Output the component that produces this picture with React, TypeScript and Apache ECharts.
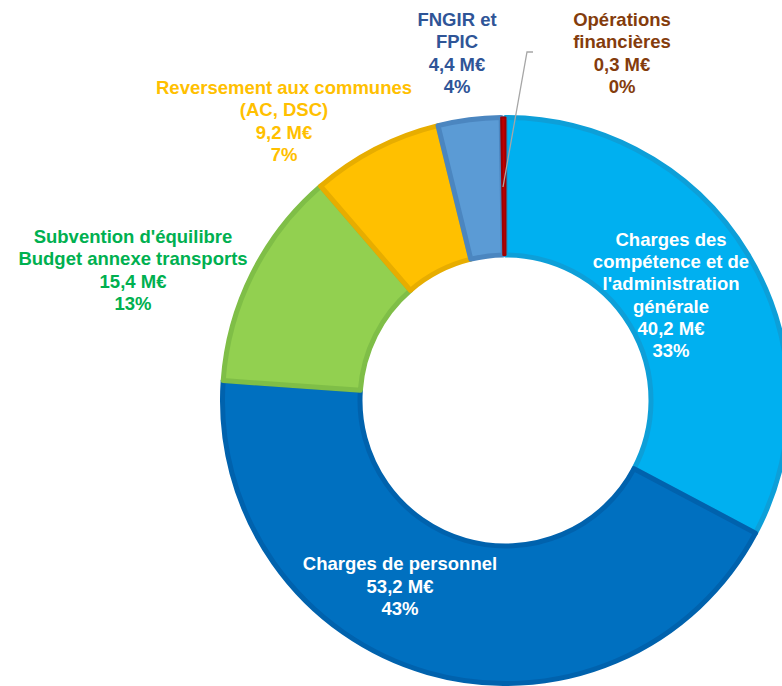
import React, { useEffect, useRef } from "react";
import * as echarts from "echarts";

const categories = [
  "Charges des\ncompétence et de\nl'administration\ngénérale",
  "Charges de personnel",
  "Subvention d'équilibre\nBudget annexe transports",
  "Reversement aux communes\n(AC, DSC)",
  "FNGIR et\nFPIC",
  "Opérations\nfinancières",
];
const values = [40.2, 53.2, 15.4, 9.2, 4.4, 0.3];

const fillColors = ["#00B0F0", "#0070C0", "#92D050", "#FFC000", "#5B9BD5", "#C00000"];
const borderColors = ["#0D9FD8", "#0062AD", "#7FBE47", "#E7AD00", "#4B86C0", "#A00000"];
const labelColors = ["#FFFFFF", "#FFFFFF", "#00B050", "#FFC000", "#2F5597", "#843C0C"];
const labelInside = [true, true, false, false, false, false];
// label block centres (layout)
const labelPos: [number, number][] = [
  [671, 295],
  [400, 586],
  [133, 270],
  [284, 121],
  [457, 53],
  [622, 53],
];
const leaderLine: number[][] = [
  [503, 187],
  [527, 52],
  [533, 52],
];

export default function App() {
  const ref = useRef<HTMLDivElement>(null);
  useEffect(() => {
    if (!ref.current) return;
    const chart = echarts.init(ref.current, undefined, { renderer: "svg" });
    const data = values.map((v, i) => ({
      name: categories[i],
      value: v,
      itemStyle: {
        color: fillColors[i],
        borderColor: borderColors[i],
        borderWidth: i === 5 ? 2 : 5,
      },
      label: {
        position: labelInside[i] ? "inside" : "outside",
        color: labelColors[i],
      },
      labelLine: { show: false },
    }));
    chart.setOption({
      animation: false,
      graphic: [
        {
          type: "polyline",
          z: 100,
          shape: { points: leaderLine },
          style: { stroke: "#A6A6A6", lineWidth: 1.3, fill: null },
        },
      ],
      series: [
        {
          type: "pie",
          center: [505.5, 400.5],
          radius: [145.5, 283],
          startAngle: 90,
          clockwise: true,
          avoidLabelOverlap: false,
          percentPrecision: 0,
          data,
          label: {
            show: true,
            fontFamily: "Liberation Sans, Arial, sans-serif",
            fontWeight: "bold",
            fontSize: 18.5,
            lineHeight: 22.3,
            align: "center",
            formatter: (p: any) =>
              `${p.name}\n${p.value.toFixed(1).replace(".", ",")} M€\n${p.percent}%`,
          },
          labelLayout: (params: any) => {
            const i = params.dataIndex;
            return {
              x: labelPos[i][0],
              y: labelPos[i][1],
              align: "center",
              verticalAlign: "middle",
            };
          },
          emphasis: { disabled: true },
        },
      ],
    });
    return () => chart.dispose();
  }, []);
  return (
    <div
      ref={ref}
      style={{ position: "fixed", left: 0, top: 0, width: 782, height: 686, background: "#fff" }}
    />
  );
}
